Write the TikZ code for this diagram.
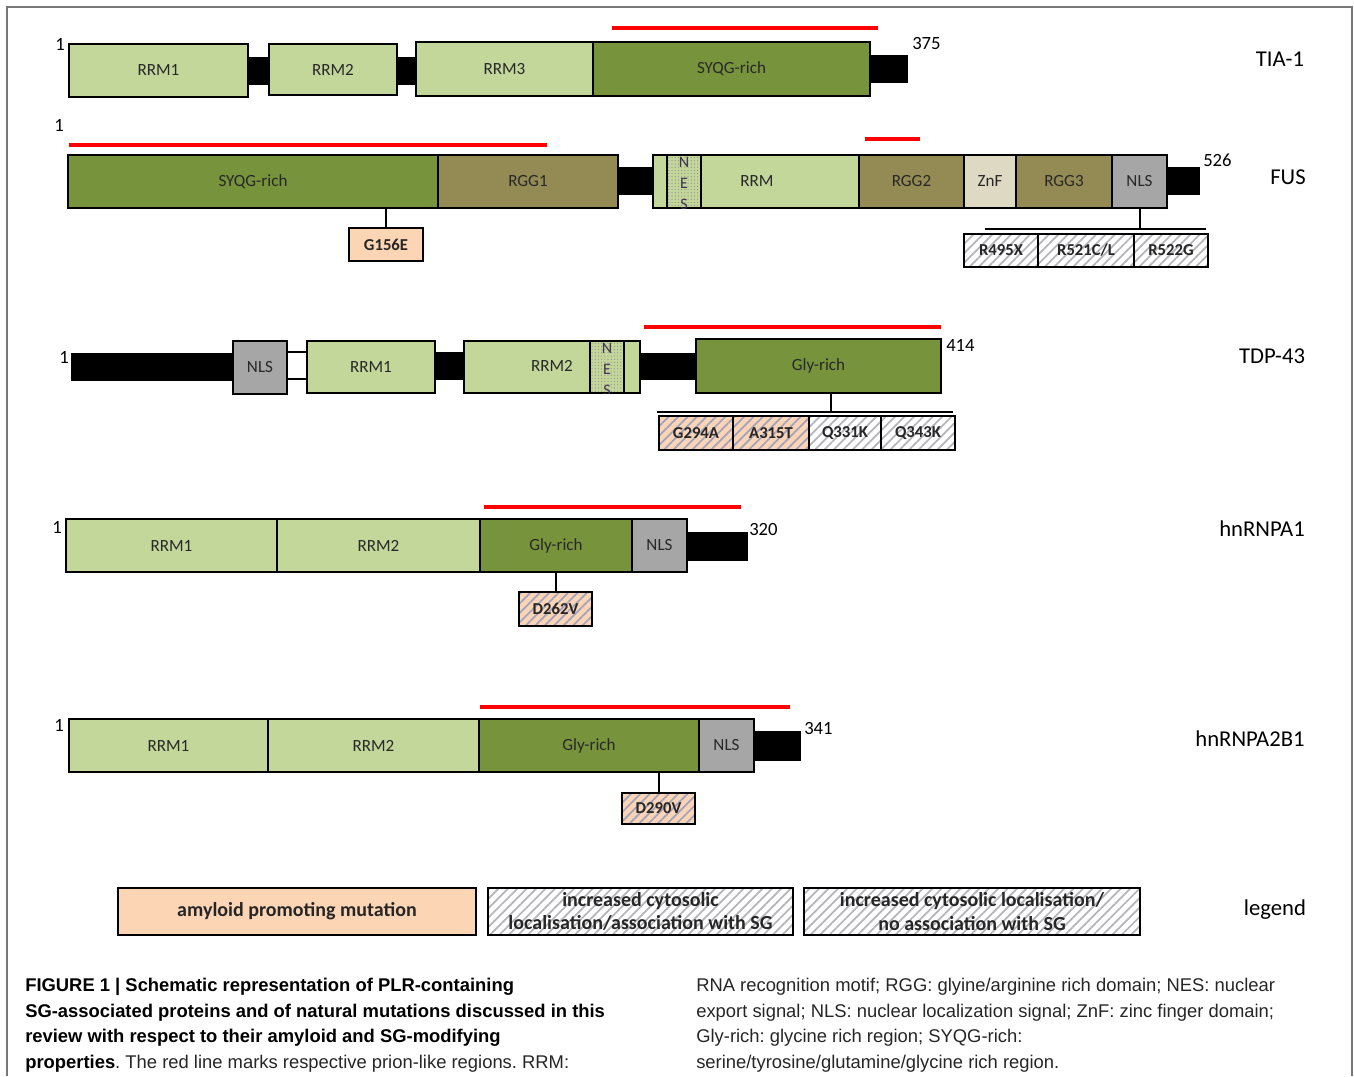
\documentclass[tikz,border=0pt]{standalone}
\usepackage{fontspec}
\setmainfont{Carlito}
\newfontfamily\capfont{Liberation Sans}
\usetikzlibrary{patterns.meta}
\definecolor{rrm}{RGB}{196,215,155}
\definecolor{syqg}{RGB}{119,147,60}
\definecolor{rgg}{RGB}{148,138,84}
\definecolor{znf}{RGB}{221,217,195}
\definecolor{nlsc}{RGB}{166,166,166}
\definecolor{peach}{RGB}{252,213,181}
\definecolor{hatchc}{RGB}{180,180,185}
\definecolor{nestext}{RGB}{64,49,82}
\definecolor{domtext}{RGB}{40,40,40}
\definecolor{framec}{RGB}{120,120,120}
\newcommand\dmn[7]{\node[dom,#6,minimum width={(#4-#2)*0.75pt},minimum height={(#5-#3)*0.75pt}] (#1) at ({(#2+#4)/2},{(#3+#5)/2}) {#7};}
\frenchspacing
\begin{document}
\begin{tikzpicture}[x=0.75pt,y=-0.75pt,
  dom/.style={draw=black,line width=1.6pt,inner sep=0pt,outer sep=0pt,font=\fontsize{12.8}{14}\selectfont,text=domtext},
  lnk/.style={fill=black,draw=none},
  dlab/.style={inner sep=0pt,font=\fontsize{12.8}{14}\selectfont,text=domtext},
  nesbox/.style={preaction={fill=rrm},pattern={Dots[distance=2.4pt,radius=0.45pt]},pattern color=black!45},
  nesl/.style={inner sep=0pt,font=\fontsize{12}{13}\selectfont,text=nestext},
  mut/.style={dom,line width=1.7pt,font=\bfseries\fontsize{12.5}{14}\selectfont,text=black!85},
  hw/.style={preaction={fill=white},pattern={Lines[angle=45,distance=5pt,line width=1.3pt]},pattern color=hatchc},
  hp/.style={preaction={fill=peach},pattern={Lines[angle=45,distance=5pt,line width=1.3pt]},pattern color=hatchc!90!blue},
  redl/.style={draw=red,line width=3pt},
  stemln/.style={draw=black,line width=1.5pt},
  barln/.style={draw=black,line width=2.2pt},
  num/.style={inner sep=0pt,font=\fontsize{14}{15}\selectfont},
  pname/.style={inner sep=0pt,font=\fontsize{17}{19}\selectfont},
  leg/.style={dom,line width=2pt,font=\bfseries\fontsize{15}{17.3}\selectfont,align=center,text=black!85},
  captxt/.style={inner sep=0pt,anchor=base west,font=\capfont\fontsize{13.8}{16}\selectfont,text=black!85}]
\useasboundingbox (0,0) rectangle (1354,1076);
\fill[white] (0,0) rectangle (1354,1076);
\draw[framec,line width=0.8pt] (7,1076) -- (7,7) -- (1352,7) -- (1352,1076);

% ---------------- TIA-1
\draw[redl] (612,28) -- (878,28);
\dmn{al1}{248}{57}{269}{85}{lnk}{}
\dmn{al2}{397}{57}{416}{85}{lnk}{}
\dmn{atail}{870}{55}{908}{83}{lnk}{}
\dmn{ar1}{69}{44}{248}{97}{fill=rrm}{RRM1}
\dmn{ar2}{269}{44}{397}{95}{fill=rrm}{RRM2}
\dmn{ar3}{416}{42}{593}{96}{fill=rrm}{RRM3}
\dmn{asy}{593}{42}{870}{96}{fill=syqg}{SYQG-rich}
\node[num] (an1) at (60,44) {1};
\node[num,anchor=west] (an2) at (912,44) {375};
\node[pname] (atia) at (1280,59) {TIA-1};

% ---------------- FUS
\draw[redl] (69,145) -- (547,145);
\draw[redl] (865,139) -- (920,139);
\dmn{fl1}{618}{167}{653}{195}{lnk}{}
\dmn{ftail}{1167}{167}{1200}{195}{lnk}{}
\dmn{fsy}{68}{155}{438}{208}{fill=syqg}{SYQG-rich}
\dmn{fg1}{438}{155}{618}{208}{fill=rgg}{RGG1}
\dmn{fsg}{653}{155}{667}{208}{fill=rrm}{}
\dmn{fnes}{667}{155}{701}{208}{nesbox}{}
\dmn{frrm}{701}{155}{859}{208}{fill=rrm}{}
\node[dlab] (frrmt) at (757,181) {RRM};
\dmn{fg2}{859}{155}{964}{208}{fill=rgg}{RGG2}
\dmn{fznf}{964}{155}{1016}{208}{fill=znf}{ZnF}
\dmn{fg3}{1016}{155}{1112}{208}{fill=rgg}{RGG3}
\dmn{fnls}{1112}{155}{1167}{208}{fill=nlsc}{NLS}
\begin{scope}
\clip (fnes.north west) rectangle (fnes.south east);
\node[nesl] (fnN) at (684,162) {N};
\node[nesl] (fnE) at (684,183) {E};
\node[nesl] (fnS) at (684,204) {S};
\end{scope}
\node[num] (fn1) at (59,125) {1};
\node[num,anchor=west] (fn2) at (1203,160) {526};
\node[pname] (ffus) at (1288,177) {FUS};
\node[mut,fill=peach,minimum width={74*0.75pt},minimum height={33*0.75pt}] (g156) at (386,244.5) {G156E};
\draw[stemln] (g156.north) -- (g156.north |- fsy.south);
\coordinate (fbl) at (985,229);
\coordinate (fbr) at (1206,229);
\draw[barln] (fbl) -- (fbr);
\draw[stemln] (fnls.south) -- (fnls.south |- fbl);
\dmn{m495}{964}{234}{1038}{267}{mut,hw}{R495X}
\dmn{m521}{1038}{234}{1134}{267}{mut,hw}{R521C/L}
\dmn{m522}{1134}{234}{1208}{267}{mut,hw}{R522G}

% ---------------- TDP-43
\draw[redl] (644,327) -- (941,327);
\dmn{tl0}{71}{353}{233}{381}{lnk}{}
\dmn{tl1}{287}{352}{307}{379}{fill=white,draw=none}{}
\draw[line width=1.6pt] (tl1.north west) -- (tl1.north east);
\draw[line width=1.6pt] (tl1.south west) -- (tl1.south east);
\dmn{tl2}{435}{352}{465}{380}{lnk}{}
\dmn{tl3}{640}{353}{697}{380}{lnk}{}
\dmn{tnls}{233}{341}{287}{394}{fill=nlsc}{NLS}
\dmn{tr1}{307}{341}{435}{393}{fill=rrm}{RRM1}
\dmn{tr2}{464}{341}{590}{393}{fill=rrm}{}
\node[dlab] (tr2t) at (552,366) {RRM2};
\dmn{tnes}{590}{341}{624}{393}{nesbox}{}
\dmn{tsg}{624}{341}{640}{393}{fill=rrm}{}
\dmn{tgly}{696}{339}{941}{393}{fill=syqg}{Gly-rich}
\begin{scope}
\clip (tnes.north west) rectangle (tnes.south east);
\node[nesl] (tnN) at (607,348) {N};
\node[nesl] (tnE) at (607,369) {E};
\node[nesl] (tnS) at (607,390) {S};
\end{scope}
\node[num] (tn1) at (64,357) {1};
\node[num,anchor=west] (tn2) at (946,345) {414};
\node[pname] (ttdp) at (1272,356) {TDP-43};
\coordinate (tbl) at (657,412);
\coordinate (tbr) at (953,412);
\coordinate (tst) at (831,412);
\draw[barln] (tbl) -- (tbr);
\draw[stemln] (tst) -- (tst |- tgly.south);
\dmn{m294}{659}{416}{733}{450}{mut,hp}{G294A}
\dmn{m315}{733}{416}{809}{450}{mut,hp}{A315T}
\dmn{m331}{809}{416}{881}{450}{mut,hw}{Q331K}
\dmn{m343}{881}{416}{955}{450}{mut,hw}{Q343K}

% ---------------- hnRNPA1
\draw[redl] (484,507) -- (741,507);
\dmn{htail}{687}{532}{748}{561}{lnk}{}
\dmn{hr1}{66}{519}{277}{572}{fill=rrm}{RRM1}
\dmn{hr2}{277}{519}{480}{572}{fill=rrm}{RRM2}
\dmn{hgly}{480}{519}{632}{572}{fill=syqg}{Gly-rich}
\dmn{hnls}{632}{519}{687}{572}{fill=nlsc}{NLS}
\node[num] (hn1) at (57,527) {1};
\node[num,anchor=west] (hn2) at (749,529) {320};
\node[pname] (ha1) at (1262,529) {hnRNPA1};
\dmn{m262}{519}{592}{592}{626}{mut,hp}{D262V}
\draw[stemln] (m262.north) -- (m262.north |- hgly.south);

% ---------------- hnRNPA2B1
\draw[redl] (480,707) -- (790,707);
\dmn{btail}{754}{731}{801}{761}{lnk}{}
\dmn{br1}{69}{719}{268}{772}{fill=rrm}{RRM1}
\dmn{br2}{268}{719}{479}{772}{fill=rrm}{RRM2}
\dmn{bgly}{479}{719}{699}{772}{fill=syqg}{Gly-rich}
\dmn{bnls}{699}{719}{754}{772}{fill=nlsc}{NLS}
\node[num] (bn1) at (59,725) {1};
\node[num,anchor=west] (bn2) at (804,728) {341};
\node[pname] (ba2) at (1250,739) {hnRNPA2B1};
\dmn{m290}{622}{793}{695}{824}{mut,hp}{D290V}
\draw[stemln] (m290.north) -- (m290.north |- bgly.south);

% ---------------- legend
\dmn{lg1}{118}{888}{476}{935}{leg,fill=peach}{amyloid promoting mutation}
\dmn{lg2}{488}{888}{793}{935}{leg,hw}{increased cytosolic\\localisation/association with SG}
\dmn{lg3}{804}{888}{1140}{935}{leg,hw}{increased cytosolic localisation/\\no association with SG}
\node[pname] (lgt) at (1275,910) {legend};

% ---------------- caption
\node[captxt,text=black] (c1) at (25,991) {\bfseries FIGURE 1 | Schematic representation of PLR-containing};
\node[captxt,text=black] (c2) at (25,1017) {\bfseries SG-associated proteins and of natural mutations discussed in this};
\node[captxt,text=black] (c3) at (25,1042) {\bfseries review with respect to their amyloid and SG-modifying};
\node[captxt] (c4) at (25,1068) {\textbf{\color{black}properties}. The red line marks respective prion-like regions. RRM:};
\node[captxt] (d1) at (696,991) {RNA recognition motif; RGG: glyine/arginine rich domain; NES: nuclear};
\node[captxt] (d2) at (696,1017) {export signal; NLS: nuclear localization signal; ZnF: zinc finger domain;};
\node[captxt] (d3) at (696,1042) {Gly-rich: glycine rich region; SYQG-rich:};
\node[captxt] (d4) at (696,1068) {serine/tyrosine/glutamine/glycine rich region.};
\end{tikzpicture}
\end{document}
